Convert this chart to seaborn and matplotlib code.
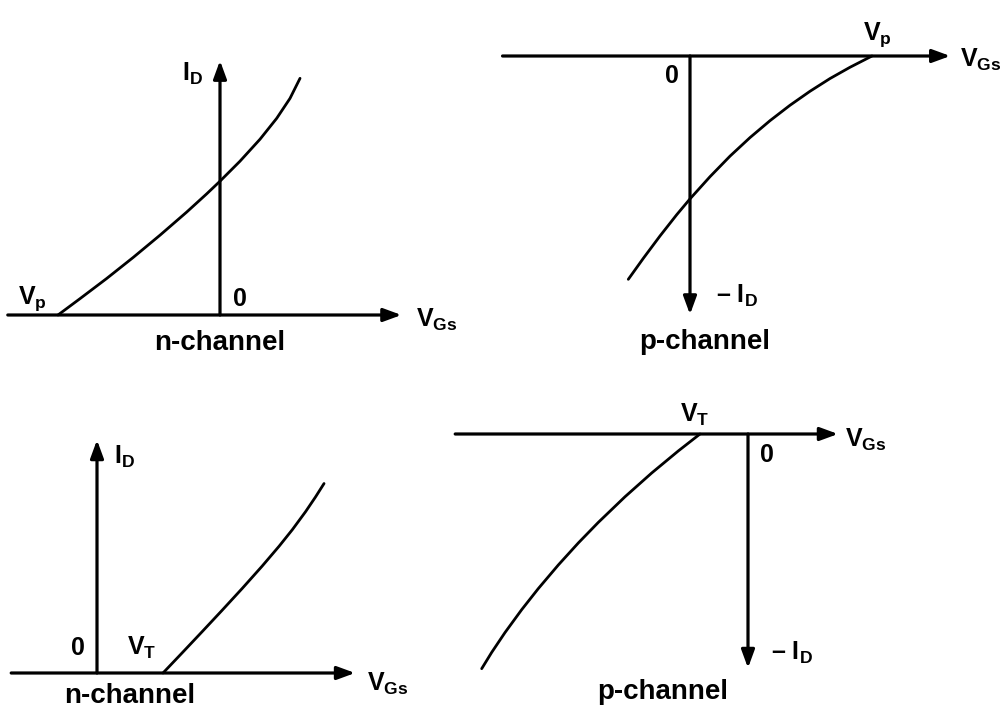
import matplotlib.pyplot as plt
import pandas as pd
import seaborn as sns

# transfer curves (arbitrary units, origin at V_GS = 0, I_D = 0)
# n-channel depletion, pinch-off at Vp = -1
nd_vgs = [-1.0, -0.864, -0.700, -0.535, -0.370, -0.206, -0.082, 0.0, 0.123, 0.247, 0.350, 0.432, 0.494]
nd_id = [0.0, 0.101, 0.225, 0.356, 0.493, 0.635, 0.748, 0.826, 0.949, 1.085, 1.214, 1.337, 1.461]
# p-channel depletion, pinch-off at Vp = +1
pd_vgs = [-0.339, -0.256, -0.165, -0.073, 0.0, 0.110, 0.220, 0.330, 0.440, 0.549, 0.659, 0.769, 0.879, 1.0]
pd_id = [-1.227, -1.111, -0.989, -0.872, -0.785, -0.663, -0.550, -0.448, -0.355, -0.271, -0.194, -0.124, -0.062, 0.0]
# n-channel enhancement, threshold VT = 1
ne_vgs = [1.0, 1.29, 1.59, 1.89, 2.20, 2.50, 2.76, 2.96, 3.16, 3.31, 3.44]
ne_id = [0.0, 0.305, 0.623, 0.944, 1.281, 1.617, 1.922, 2.172, 2.444, 2.666, 2.871]
# p-channel enhancement, threshold VT = -1
pe_vgs = [-1.0, -1.452, -2.006, -2.563, -3.119, -3.535, -3.952, -4.369, -4.715, -5.063, -5.340, -5.548]
pe_id = [0.0, -0.353, -0.812, -1.308, -1.842, -2.270, -2.729, -3.221, -3.660, -4.137, -4.550, -4.889]

W, H = 1004, 711

sns.set_theme(style='white')
plt.rcParams['font.family'] = ['Liberation Sans', 'DejaVu Sans']
plt.rcParams['font.weight'] = 'bold'
plt.rcParams['mathtext.fontset'] = 'custom'
plt.rcParams['mathtext.rm'] = 'Liberation Sans:bold'
plt.rcParams['mathtext.it'] = 'Liberation Sans:bold'
plt.rcParams['mathtext.bf'] = 'Liberation Sans:bold'
plt.rcParams['mathtext.default'] = 'rm'

fig = plt.figure(figsize=(W / 100, H / 100), dpi=100)
fig.patch.set_facecolor('white')

ARROW = dict(arrowstyle='-|>,head_length=0.6,head_width=0.22', lw=2.3,
             color='black', mutation_scale=18, shrinkA=0, shrinkB=0)


def panel(origin, scale):
    # full-figure transparent axes, origin (pixels) maps to V=0, I=0
    ox, oy = origin
    ax = fig.add_axes([0, 0, 1, 1])
    ax.set_xlim(-ox / scale, (W - ox) / scale)
    ax.set_ylim((oy - H) / scale, oy / scale)
    ax.patch.set_alpha(0)
    ax.set_axis_off()
    return ax


def axes_lines(ax, x_lo, x_hi, y_end):
    ax.annotate('', xy=(x_hi, 0), xytext=(x_lo, 0), arrowprops=ARROW)
    ax.annotate('', xy=(0, y_end), xytext=(0, 0), arrowprops=ARROW)


def curve(ax, vgs, i_d):
    df = pd.DataFrame({'vgs': vgs, 'id': i_d})
    sns.lineplot(data=df, x='vgs', y='id', ax=ax, color='black', lw=2.0,
                 sort=False, legend=False)
    ax.lines[-1].set_solid_joinstyle('round')
    ax.set_xlabel('')
    ax.set_ylabel('')


LAB = dict(fontsize=18, ha='center', va='center', color='black')
CAP = dict(fontsize=20, ha='center', va='center', color='black')

# top left: n-channel depletion
ax1 = panel((220, 315), 162)
axes_lines(ax1, -1.31, 1.12, 1.57)
curve(ax1, nd_vgs, nd_id)
ax1.text(-0.17, 1.49, r'$I_D$', **LAB)
ax1.text(-1.16, 0.10, r'$V_p$', **LAB)
ax1.text(0.12, 0.10, '0', **LAB)
ax1.text(1.34, -0.03, r'$V_{Gs}$', **LAB)
ax1.text(0.0, -0.17, 'n-channel', **CAP)

# top right: p-channel depletion
ax2 = panel((690, 56), 182)
axes_lines(ax2, -1.03, 1.43, -1.42)
curve(ax2, pd_vgs, pd_id)
ax2.text(1.03, 0.12, r'$V_p$', **LAB)
ax2.text(-0.10, -0.11, '0', **LAB)
ax2.text(1.60, -0.02, r'$V_{Gs}$', **LAB)
ax2.text(0.26, -1.32, '– ' + r'$I_D$', **LAB)
ax2.text(0.08, -1.57, 'p-channel', **CAP)

# bottom left: n-channel enhancement
ax3 = panel((97, 673), 66)
axes_lines(ax3, -1.30, 3.91, 3.53)
curve(ax3, ne_vgs, ne_id)
ax3.text(0.42, 3.27, r'$I_D$', **LAB)
ax3.text(-0.29, 0.38, '0', **LAB)
ax3.text(0.68, 0.38, r'$V_T$', **LAB)
ax3.text(4.40, -0.17, r'$V_{Gs}$', **LAB)
ax3.text(0.50, -0.35, 'n-channel', **CAP)

# bottom right: p-channel enhancement
ax4 = panel((748, 434), 48)
axes_lines(ax4, -6.10, 1.875, -4.875)
curve(ax4, pe_vgs, pe_id)
ax4.text(-1.10, 0.40, r'$V_T$', **LAB)
ax4.text(0.40, -0.44, '0', **LAB)
ax4.text(2.46, -0.125, r'$V_{Gs}$', **LAB)
ax4.text(0.92, -4.56, '– ' + r'$I_D$', **LAB)
ax4.text(-1.77, -5.375, 'p-channel', **CAP)

fig.savefig('out.png', dpi=100, facecolor='white')
